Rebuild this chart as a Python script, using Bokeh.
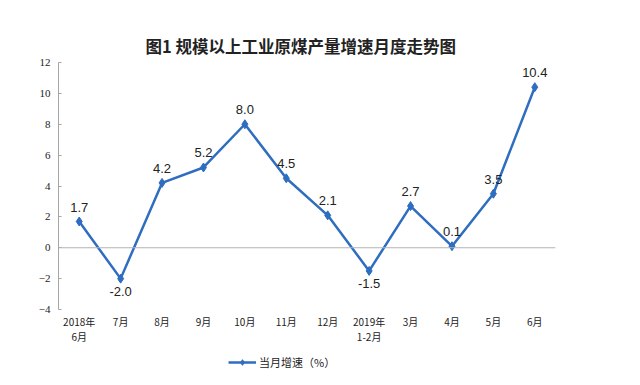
from bokeh.plotting import figure
from bokeh.layouts import column
from bokeh.models import ColumnDataSource, Legend, LegendItem, Span, FixedTicker, Title, Range1d, FactorRange
from bokeh.core.properties import value
from bokeh.embed import file_html
from bokeh.resources import INLINE

months = ["2018年\n6月", "7月", "8月", "9月", "10月", "11月", "12月",
          "2019年\n1-2月", "3月", "4月", "5月", "6月"]
growth = [1.7, -2.0, 4.2, 5.2, 8.0, 4.5, 2.1, -1.5, 2.7, 0.1, 3.5, 10.4]
labels = ["1.7", "-2.0", "4.2", "5.2", "8.0", "4.5", "2.1", "-1.5", "2.7", "0.1", "3.5", "10.4"]
y_ticks = [-4, -2, 0, 2, 4, 6, 8, 10, 12]
title_text = "图1  规模以上工业原煤产量增速月度走势图"
legend_text = "当月增速（%）"

BLUE = "#2E6DBF"
CJK = "Noto Sans CJK SC"

above = [g >= 0 or i == 0 for i, g in enumerate(growth)]
src = ColumnDataSource(dict(x=months, y=growth))
src_up = ColumnDataSource(dict(x=[m for m, a in zip(months, above) if a],
                               y=[g for g, a in zip(growth, above) if a],
                               t=[l for l, a in zip(labels, above) if a]))
src_dn = ColumnDataSource(dict(x=[m for m, a in zip(months, above) if not a],
                               y=[g for g, a in zip(growth, above) if not a],
                               t=[l for l, a in zip(labels, above) if not a]))

p = figure(frame_width=497, frame_height=247, x_range=months, y_range=(-4, 12),
           output_backend="svg", toolbar_location=None,
           min_border_left=58, min_border_right=77, min_border_top=62, min_border_bottom=0)
# small spacer title next to the frame, main title above it
p.title = Title(text=" ", text_font_size="6px")
p.add_layout(Title(text=title_text, align="left", text_font=CJK, text_font_size="16.5px",
                   text_font_style="bold", text_color="#222222", offset=87), "above")
p.outline_line_color = None
p.grid.visible = False
p.x_range.range_padding = 0

p.yaxis.ticker = FixedTicker(ticks=y_ticks)
p.yaxis.axis_line_color = "#a6a6a6"
p.yaxis.major_tick_line_color = "#a6a6a6"
p.yaxis.major_tick_in = 3
p.yaxis.major_tick_out = 0
p.yaxis.minor_tick_line_color = None
p.yaxis.major_label_text_font = "Liberation Serif"
p.yaxis.major_label_text_font_size = "11px"
p.yaxis.major_label_text_color = "#222222"
p.yaxis.major_label_standoff = 8

p.xaxis.axis_line_color = None
p.xaxis.major_tick_line_color = None
p.xaxis.major_tick_out = 0
p.xaxis.major_tick_in = 0
p.xaxis.major_label_text_font = CJK
p.xaxis.major_label_text_font_size = "10px"
p.xaxis.major_label_text_line_height = 1.0
p.xaxis.major_label_text_color = "#222222"
p.xaxis.major_label_standoff = 4

p.add_layout(Span(location=0, dimension="width", line_color="#b3b3b3", line_width=1))

p.line("x", "y", source=src, line_color=BLUE, line_width=2.5)
p.scatter("x", "y", source=src, marker="diamond", size=9, fill_color=BLUE, line_color=BLUE)

p.text("x", "y", text="t", source=src_up, text_font=value("Liberation Sans"), text_font_size="13px",
       text_align="center", text_baseline="bottom", y_offset=-10, text_color="#222222")
p.text("x", "y", text="t", source=src_dn, text_font=value("Liberation Sans"), text_font_size="13px",
       text_align="center", text_baseline="top", y_offset=8, text_color="#222222")

# legend strip below the chart (series drawn out of this strip's view, only its legend shows)
pl = figure(width=632, height=26, x_range=FactorRange(factors=months), y_range=Range1d(100, 101),
            output_backend="svg", toolbar_location=None, min_border=0)
pl.axis.visible = False
pl.grid.visible = False
pl.outline_line_color = None
ln = pl.line("x", "y", source=src, line_color=BLUE, line_width=2.5)
mk = pl.scatter("x", "y", source=src, marker="diamond", size=9, fill_color=BLUE, line_color=BLUE)
legend = Legend(items=[LegendItem(label=legend_text, renderers=[ln, mk])],
                orientation="horizontal", location=(170, 2),
                label_text_font=CJK, label_text_font_size="11px", label_text_color="#222222",
                border_line_color=None, background_fill_alpha=0, glyph_width=28, glyph_height=14,
                label_height=14, margin=0, padding=2, label_standoff=3)
pl.add_layout(legend)

open("out.html", "w").write(file_html(column(p, pl, spacing=0), INLINE))
